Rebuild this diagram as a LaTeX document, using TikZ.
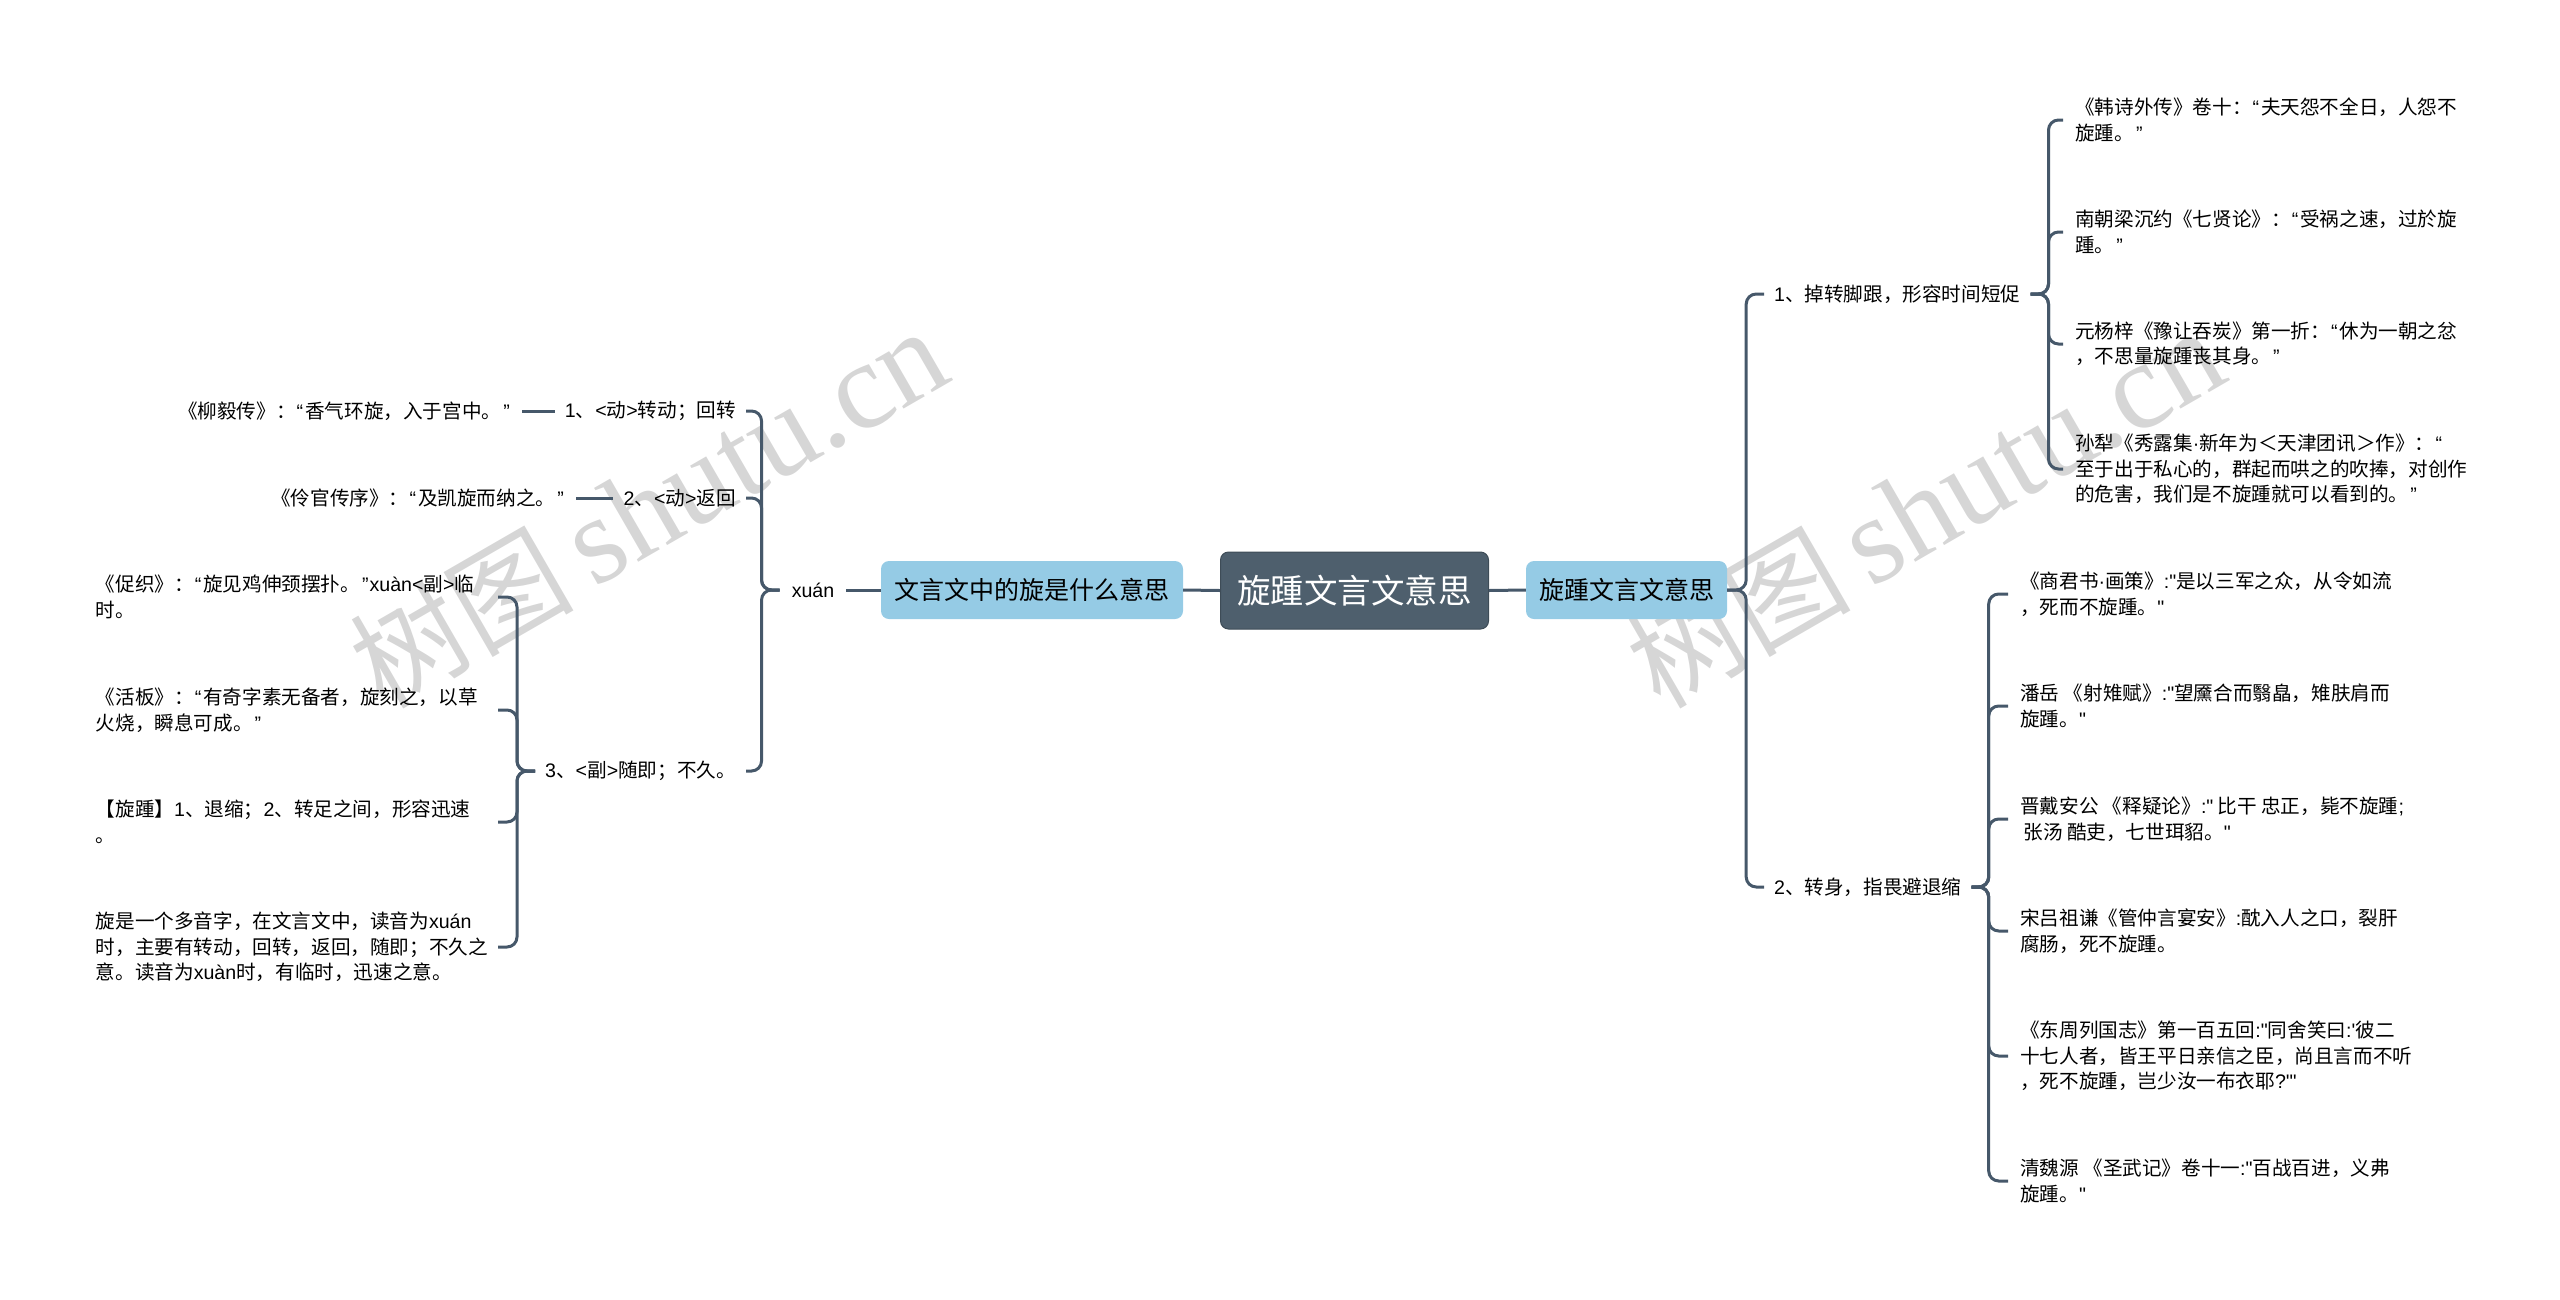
\documentclass[tikz,border=0pt]{standalone}
\usepackage{fontspec}
\setmainfont{Noto Sans CJK SC}[Ligatures=TeXOff]
\newfontfamily\latinfont{Liberation Sans}[Ligatures=TeXOff]
\newfontfamily\markfont{Liberation Serif}
\newcommand\dou{^^^^ff0c}
\newcommand\fen{^^^^ff1b}
\newcommand\mao{^^^^ff1a}
\newcommand\zuo{\hspace{1pt}{\latinfont ^^^^201c}\hspace{2pt}}
\newcommand\you{\hspace{2pt}{\latinfont ^^^^201d}\hspace{1pt}}
\definecolor{linecol}{HTML}{46586A}
\definecolor{boxcol}{HTML}{95CBE5}
\definecolor{rootcol}{HTML}{4E5F6D}
\definecolor{markcol}{HTML}{D6D6D6}
\tikzset{
    link/.style={draw=linecol, line width=3pt, rounded corners=10pt},
    rootbox/.style={fill=rootcol, draw=rootcol!80!black, line width=1pt, rounded corners=8pt, text=white, minimum width=268pt, minimum height=77pt, inner sep=0pt, font=\fontsize{33.5}{40}\selectfont},
    topicbox/.style={fill=boxcol, rounded corners=8pt, minimum height=58pt, inner sep=0pt, font=\fontsize{25}{30}\selectfont},
    branch/.style={inner xsep=10pt, inner ysep=2pt, font=\fontsize{19.6}{25.5}\selectfont},
    leaf/.style={inner xsep=12pt, inner ysep=0pt, align=left, font=\fontsize{19.6}{25.5}\selectfont},
    wmark/.style={text=markcol, rotate=30, inner sep=0pt, font=\fontsize{112}{130}\selectfont}
}
\begin{document}
\begin{tikzpicture}[x=1pt, y=-1pt]
    \useasboundingbox (0, 0) rectangle (2560, 1299);

    \node[wmark] (markl) at (648, 508) {树图\hspace{20pt}{\markfont\fontsize{124}{130}\selectfont shutu.cn}};
    \node[wmark] (markr) at (1925, 508) {树图\hspace{20pt}{\markfont\fontsize{124}{130}\selectfont shutu.cn}};

    \node[rootbox] (root) at (1354.5, 590.5) {旋踵文言文意思};
    \node[topicbox, minimum width=201pt] (topicr) at (1626.5, 590) {旋踵文言文意思};
    \node[topicbox, minimum width=302pt] (topicl) at (1032, 590) {文言文中的旋是什么意思};

    \node[branch, anchor=west] (br1) at (1764, 294) {{\latinfont 1}、掉转脚跟\dou{}形容时间短促};
    \node[branch, anchor=west] (br2) at (1764, 887) {{\latinfont 2}、转身\dou{}指畏避退缩};

    \node[leaf, anchor=west] (ra1) at (2063, 120) {《韩诗外传》卷十\mao{}\zuo{}夫天怨不全日\dou{}人怨不\\旋踵。\you{}};
    \node[leaf, anchor=west] (ra2) at (2063, 232) {南朝梁沉约《七贤论》\mao{}\zuo{}受祸之速\dou{}过於旋\\踵。\you{}};
    \node[leaf, anchor=west] (ra3) at (2063, 344) {元杨梓《豫让吞炭》第一折\mao{}\zuo{}休为一朝之忿\\\dou{}不思量旋踵丧其身。\you{}};
    \node[leaf, anchor=west] (ra4) at (2063, 469) {孙犁《秀露集{\latinfont ·}新年为^^^^ff1c天津团讯^^^^ff1e作》\mao{}\zuo{}\\至于出于私心的\dou{}群起而哄之的吹捧\dou{}对创作\\的危害\dou{}我们是不旋踵就可以看到的。\you{}};

    \node[leaf, anchor=west] (rb1) at (2008, 594) {《商君书{\latinfont ·}画策》{\latinfont :"}是以三军之众\dou{}从令如流\\\dou{}死而不旋踵。{\latinfont "}};
    \node[leaf, anchor=west] (rb2) at (2008, 706) {潘岳 《射雉赋》{\latinfont :"}望黡合而翳皛\dou{}雉肤肩而\\旋踵。{\latinfont "}};
    \node[leaf, anchor=west] (rb3) at (2008, 819) {晋戴安公 《释疑论》{\latinfont :"} 比干 忠正\dou{}毙不旋踵{\latinfont ;}\\ \,张汤 酷吏\dou{}七世珥貂。{\latinfont "}};
    \node[leaf, anchor=west] (rb4) at (2008, 931) {宋吕祖谦《管仲言宴安》{\latinfont :}酖入人之口\dou{}裂肝\\腐肠\dou{}死不旋踵。};
    \node[leaf, anchor=west] (rb5) at (2008, 1056) {《东周列国志》第一百五回{\latinfont :"}同舍笑曰{\latinfont :'}彼二\\十七人者\dou{}皆王平日亲信之臣\dou{}尚且言而不听\\\dou{}死不旋踵\dou{}岂少汝一布衣耶{\latinfont ?'"}};
    \node[leaf, anchor=west] (rb6) at (2008, 1181) {清魏源 《圣武记》卷十一{\latinfont :"}百战百进\dou{}义弗\\旋踵。{\latinfont "}};

    \node[branch, inner xsep=12pt] (xuan) at (813, 590) {\latinfont xuán};
    \node[branch, anchor=east] (bl1) at (746, 411) {{\latinfont 1}、{\latinfont <}动{\latinfont >}转动\fen{}回转};
    \node[branch, anchor=east] (bl2) at (746, 498) {{\latinfont 2}、{\latinfont <}动{\latinfont >}返回};
    \node[branch, anchor=east] (bl3) at (746, 771) {{\latinfont 3}、{\latinfont <}副{\latinfont >}随即\fen{}不久。};

    \node[leaf, anchor=east, inner xsep=11pt] (la1) at (522, 411) {《柳毅传》\mao{}\zuo{}香气环旋\dou{}入于宫中。\you{}};
    \node[leaf, anchor=east, inner xsep=11pt] (la2) at (576, 498) {《伶官传序》\mao{}\zuo{}及凯旋而纳之。\you{}};

    \node[leaf, anchor=east, text width=390pt] (lc1) at (498, 597) {《促织》\mao{}\zuo{}旋见鸡伸颈摆扑。\you{}{\latinfont xuàn<}副{\latinfont >}临\\时。};
    \node[leaf, anchor=east, text width=390pt] (lc2) at (498, 710) {《活板》\mao{}\zuo{}有奇字素无备者\dou{}旋刻之\dou{}以草\\火烧\dou{}瞬息可成。\you{}};
    \node[leaf, anchor=east, text width=390pt] (lc3) at (498, 822) {【旋踵】{\latinfont 1}、退缩\fen{}{\latinfont 2}、转足之间\dou{}形容迅速\\。};
    \node[leaf, anchor=east, text width=390pt] (lc4) at (498, 947) {旋是一个多音字\dou{}在文言文中\dou{}读音为{\latinfont xuán}\\时\dou{}主要有转动\dou{}回转\dou{}返回\dou{}随即\fen{}不久之\\意。读音为{\latinfont xuàn}时\dou{}有临时\dou{}迅速之意。};

    \draw[link] (root.east) -- (topicr.west);
    \draw[link] (root.west) -- (topicl.east);
    \draw[link] (topicl.west) -- (xuan.east);
    \draw[link] (la1.east) -- (bl1.west);
    \draw[link] (la2.east) -- (bl2.west);

    \foreach \x in {br1, br2} {
        \draw[link] (topicr.east) -- ++(19, 0) |- (\x.west);
    }
    \foreach \x in {ra1, ra2, ra3, ra4} {
        \draw[link] (br1.east) -- ++(18, 0) |- (\x.west);
    }
    \foreach \x in {rb1, rb2, rb3, rb4, rb5, rb6} {
        \draw[link] (br2.east) -- ++(17, 0) |- (\x.west);
    }
    \foreach \x in {bl1, bl2, bl3} {
        \draw[link] (xuan.west) -- ++(-18, 0) |- (\x.east);
    }
    \foreach \x in {lc1, lc2, lc3, lc4} {
        \draw[link] (bl3.west) -- ++(-18, 0) |- (\x.east);
    }
\end{tikzpicture}
\end{document}
